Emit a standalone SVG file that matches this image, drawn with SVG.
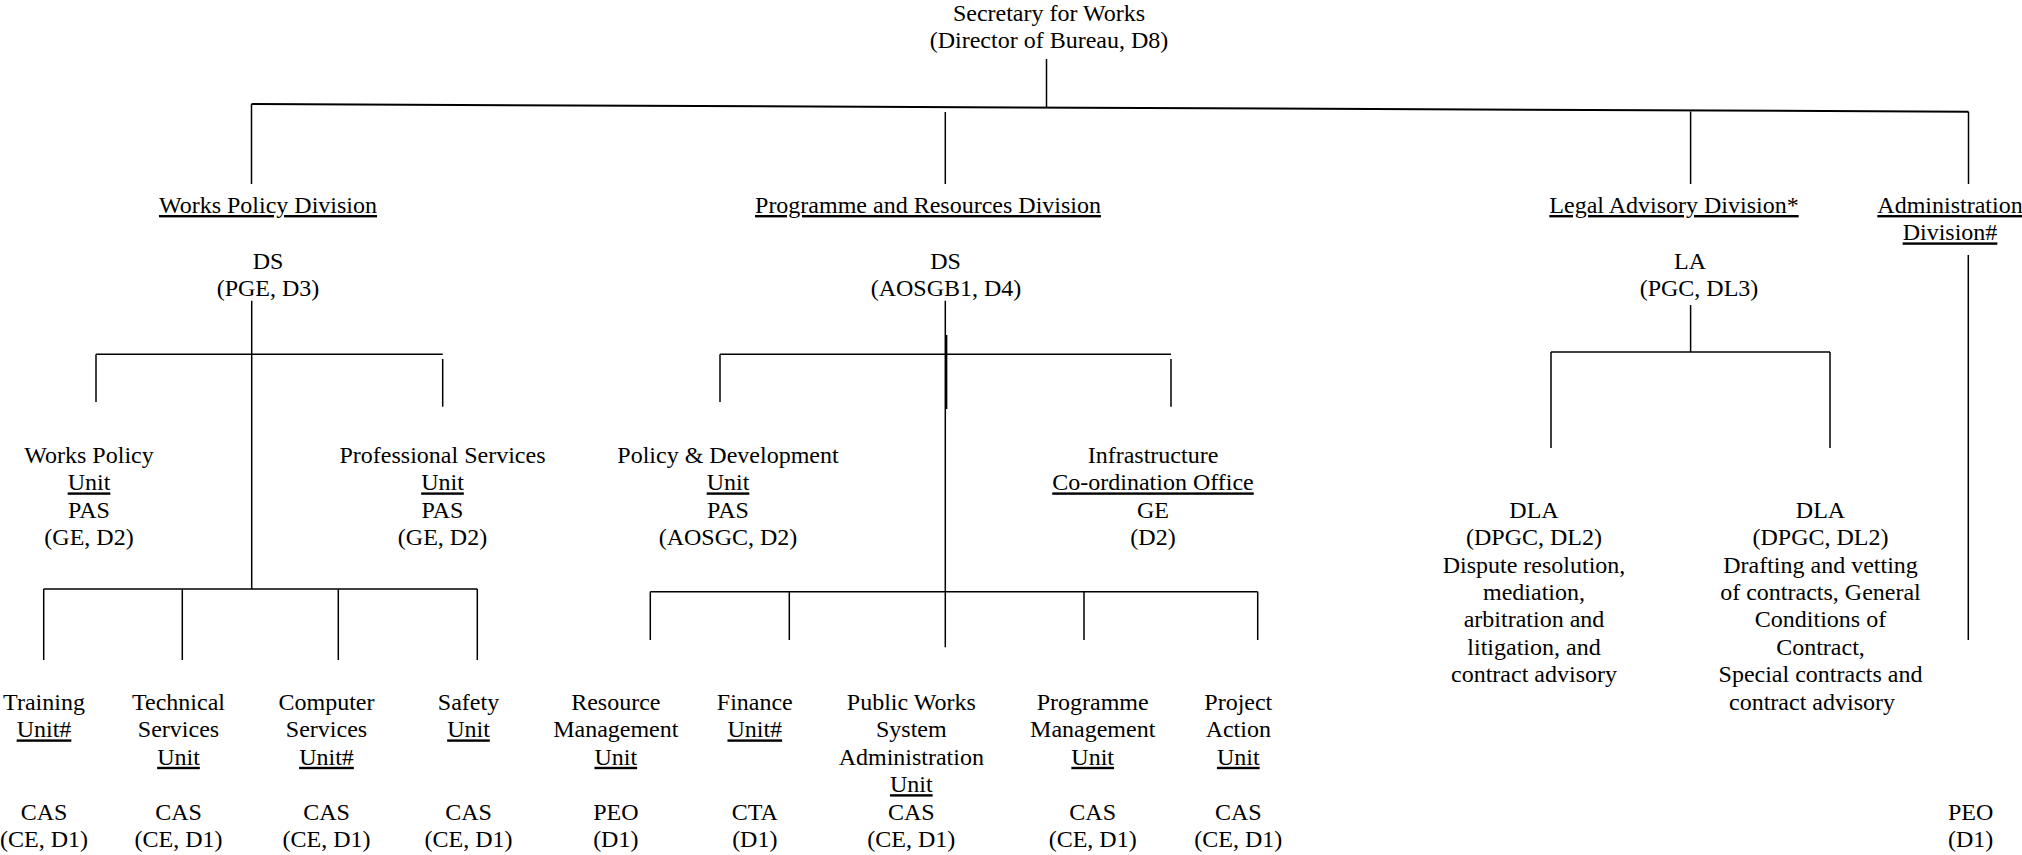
<svg xmlns="http://www.w3.org/2000/svg" width="2022" height="855" viewBox="0 0 2022 855">
<style>
text{font-family:"Liberation Serif","Times New Roman",serif;font-size:24px;fill:#000;text-anchor:middle}
.u{text-decoration:underline}
.c line{stroke:#000;stroke-width:1.5;fill:none}
.c .thick{stroke-width:2}
</style>
<rect width="2022" height="855" fill="#fff"/>
<g id="connectors" class="c">
<line x1="1046.5" y1="59" x2="1046.5" y2="107.6"/>
<line class="thick" x1="251.5" y1="104" x2="1968.5" y2="111.7"/>
<line x1="251.5" y1="104" x2="251.5" y2="184"/>
<line x1="945.3" y1="112" x2="945.3" y2="184"/>
<line x1="1690.6" y1="111.5" x2="1690.6" y2="184"/>
<line x1="1968.5" y1="111.7" x2="1968.5" y2="184"/>
<line x1="251.7" y1="300.7" x2="251.7" y2="589"/>
<line x1="96" y1="354.3" x2="442.7" y2="354.3"/>
<line x1="96" y1="354.3" x2="96" y2="402"/>
<line x1="442.7" y1="359" x2="442.7" y2="406.7"/>
<line x1="43.7" y1="589" x2="477.3" y2="589"/>
<line x1="43.7" y1="589" x2="43.7" y2="660"/>
<line x1="182.3" y1="589" x2="182.3" y2="660"/>
<line x1="338.3" y1="589" x2="338.3" y2="660"/>
<line x1="477.3" y1="589" x2="477.3" y2="660"/>
<line x1="945.3" y1="300.7" x2="945.3" y2="647.3"/>
<line x1="946.6" y1="335" x2="946.6" y2="409"/>
<line x1="720" y1="354.3" x2="1171" y2="354.3"/>
<line x1="720" y1="354.3" x2="720" y2="402"/>
<line x1="1171" y1="359" x2="1171" y2="406.7"/>
<line x1="650.3" y1="591.7" x2="1257.7" y2="591.7"/>
<line x1="650.3" y1="591.7" x2="650.3" y2="640"/>
<line x1="789.3" y1="591.7" x2="789.3" y2="640"/>
<line x1="1084" y1="591.7" x2="1084" y2="640"/>
<line x1="1257.7" y1="591.7" x2="1257.7" y2="640"/>
<line x1="1690.6" y1="305" x2="1690.6" y2="352"/>
<line x1="1551" y1="352" x2="1830" y2="352"/>
<line x1="1551" y1="352" x2="1551" y2="448"/>
<line x1="1830" y1="352" x2="1830" y2="448"/>
<line x1="1968.3" y1="255" x2="1968.3" y2="640"/>
</g>
<g id="secretary">
<text x="1049" y="21">Secretary for Works</text>
<text x="1049" y="48.4">(Director of Bureau, D8)</text>
</g>
<g id="works-policy-division">
<text x="268" y="213" class="u">Works Policy Division</text>
<text x="268" y="269">DS</text>
<text x="268" y="296.4">(PGE, D3)</text>
</g>
<g id="programme-resources-division">
<text x="928" y="213" class="u">Programme and Resources Division</text>
<text x="945.5" y="269">DS</text>
<text x="946" y="296.4">(AOSGB1, D4)</text>
</g>
<g id="legal-advisory-division">
<text x="1674" y="213" class="u">Legal Advisory Division*</text>
<text x="1690" y="269">LA</text>
<text x="1699" y="296.4">(PGC, DL3)</text>
</g>
<g id="administration-division">
<text x="1950" y="213" class="u">Administration</text>
<text x="1950" y="240.4" class="u">Division#</text>
<text x="1970.7" y="819.6">PEO</text>
<text x="1970.7" y="847">(D1)</text>
</g>
<g id="works-policy-unit">
<text x="89" y="463">Works Policy</text>
<text x="89" y="490.4" class="u">Unit</text>
<text x="89" y="517.8">PAS</text>
<text x="89" y="545.2">(GE, D2)</text>
</g>
<g id="professional-services-unit">
<text x="442.5" y="463">Professional Services</text>
<text x="442.5" y="490.4" class="u">Unit</text>
<text x="442.5" y="517.8">PAS</text>
<text x="442.5" y="545.2">(GE, D2)</text>
</g>
<g id="policy-development-unit">
<text x="728" y="463">Policy &amp; Development</text>
<text x="728" y="490.4" class="u">Unit</text>
<text x="728" y="517.8">PAS</text>
<text x="728" y="545.2">(AOSGC, D2)</text>
</g>
<g id="infrastructure-office">
<text x="1153" y="463">Infrastructure</text>
<text x="1153" y="490.4" class="u">Co-ordination Office</text>
<text x="1153" y="517.8">GE</text>
<text x="1153" y="545.2">(D2)</text>
</g>
<g id="dla-dispute">
<text x="1534" y="517.8">DLA</text>
<text x="1534" y="545.2">(DPGC, DL2)</text>
<text x="1534" y="572.6">Dispute resolution,</text>
<text x="1534" y="600">mediation,</text>
<text x="1534" y="627.4">arbitration and</text>
<text x="1534" y="654.8">litigation, and</text>
<text x="1534" y="682.2">contract advisory</text>
</g>
<g id="dla-drafting">
<text x="1820.5" y="517.8">DLA</text>
<text x="1820.5" y="545.2">(DPGC, DL2)</text>
<text x="1820.5" y="572.6">Drafting and vetting</text>
<text x="1820.5" y="600">of contracts, General</text>
<text x="1820.5" y="627.4">Conditions of</text>
<text x="1820.5" y="654.8">Contract,</text>
<text x="1820.5" y="682.2">Special contracts and</text>
<text x="1812" y="709.6">contract advisory</text>
</g>
<g id="training-unit">
<text x="44" y="710">Training</text>
<text x="44" y="737.4" class="u">Unit#</text>
<text x="44" y="819.6">CAS</text>
<text x="44" y="847">(CE, D1)</text>
</g>
<g id="technical-services-unit">
<text x="178.5" y="710">Technical</text>
<text x="178.5" y="737.4">Services</text>
<text x="178.5" y="764.8" class="u">Unit</text>
<text x="178.5" y="819.6">CAS</text>
<text x="178.5" y="847">(CE, D1)</text>
</g>
<g id="computer-services-unit">
<text x="326.5" y="710">Computer</text>
<text x="326.5" y="737.4">Services</text>
<text x="326.5" y="764.8" class="u">Unit#</text>
<text x="326.5" y="819.6">CAS</text>
<text x="326.5" y="847">(CE, D1)</text>
</g>
<g id="safety-unit">
<text x="468.5" y="710">Safety</text>
<text x="468.5" y="737.4" class="u">Unit</text>
<text x="468.5" y="819.6">CAS</text>
<text x="468.5" y="847">(CE, D1)</text>
</g>
<g id="resource-management-unit">
<text x="615.8" y="710">Resource</text>
<text x="615.8" y="737.4">Management</text>
<text x="615.8" y="764.8" class="u">Unit</text>
<text x="615.8" y="819.6">PEO</text>
<text x="615.8" y="847">(D1)</text>
</g>
<g id="finance-unit">
<text x="754.8" y="710">Finance</text>
<text x="754.8" y="737.4" class="u">Unit#</text>
<text x="754.8" y="819.6">CTA</text>
<text x="754.8" y="847">(D1)</text>
</g>
<g id="pwsa-unit">
<text x="911.3" y="710">Public Works</text>
<text x="911.3" y="737.4">System</text>
<text x="911.3" y="764.8">Administration</text>
<text x="911.3" y="792.2" class="u">Unit</text>
<text x="911.3" y="819.6">CAS</text>
<text x="911.3" y="847">(CE, D1)</text>
</g>
<g id="programme-management-unit">
<text x="1092.7" y="710">Programme</text>
<text x="1092.7" y="737.4">Management</text>
<text x="1092.7" y="764.8" class="u">Unit</text>
<text x="1092.7" y="819.6">CAS</text>
<text x="1092.7" y="847">(CE, D1)</text>
</g>
<g id="project-action-unit">
<text x="1238.3" y="710">Project</text>
<text x="1238.3" y="737.4">Action</text>
<text x="1238.3" y="764.8" class="u">Unit</text>
<text x="1238.3" y="819.6">CAS</text>
<text x="1238.3" y="847">(CE, D1)</text>
</g>
</svg>
